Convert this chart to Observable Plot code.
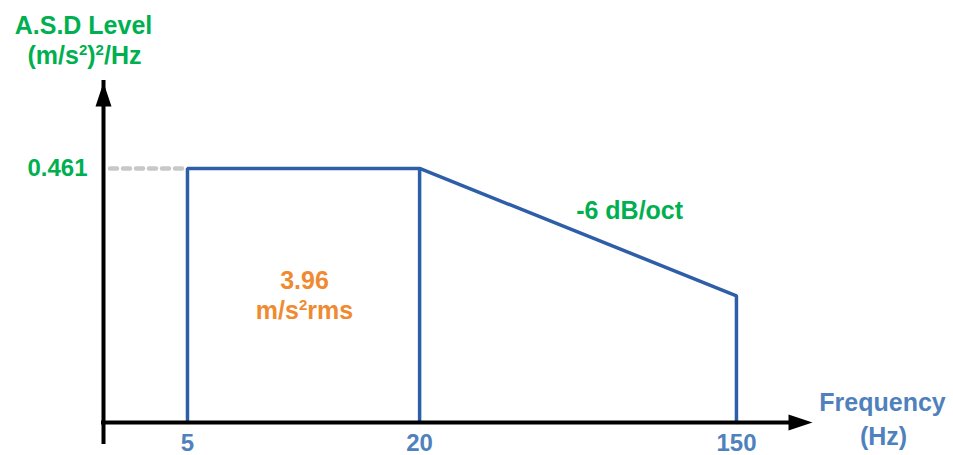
<!DOCTYPE html>
<html>
<head>
<meta charset="utf-8">
<script src="https://cdn.jsdelivr.net/npm/d3@7"></script>
<script src="https://cdn.jsdelivr.net/npm/@observablehq/plot@0.6"></script>
<style>
  html, body { margin: 0; padding: 0; background: #fff; }
  svg { display: block; }
</style>
</head>
<body>
<div id="chart"></div>
<script>
// ---- data ----
const breakFreqs = [5, 20, 150];          // Hz
const asdLevels = [0.461, 0.461, 0.23];   // (m/s²)²/Hz (schematic slope end)
const tickLabels = ["5", "20", "150"];
const levelLabel = "0.461";
const slopeLabel = "-6 dB/oct";
const rmsLabel = ["3.96", "m/s²rms"];
const yTitle = ["A.S.D Level", "(m/s²)²/Hz"];
const xTitle = ["Frequency", "(Hz)"];
const xDomain = [3.08, 249];
const yDomain = [0, 0.617];

// ---- derived tables ----
const outline = [
  {f: breakFreqs[0], v: 0},
  ...breakFreqs.map((f, i) => ({f, v: asdLevels[i]})),
  {f: breakFreqs[breakFreqs.length - 1], v: 0}
];
const ticks = breakFreqs.map((f, i) => ({f, label: tickLabels[i]}));

const GREEN = "#00b050", BLUE = "#2f5ea8", LBLUE = "#4f81bd", ORANGE = "#f08a30";
const FONT = "'Liberation Sans', Arial, sans-serif";

const arrowHead = {
  draw(ctx) {
    ctx.moveTo(0, 0);
    ctx.lineTo(8, 24);
    ctx.lineTo(-8, 24);
    ctx.closePath();
  }
};

const textOpts = {fontFamily: FONT, fontWeight: "bold", fontSize: 25, lineAnchor: "middle"};

const chart = Plot.plot({
  width: 953,
  height: 455,
  marginLeft: 103,
  marginRight: 141,
  marginTop: 82,
  marginBottom: 33,
  style: {fontFamily: FONT, background: "#fff"},
  x: {type: "pow", exponent: -0.037, domain: xDomain, axis: null},
  y: {domain: yDomain, axis: null},
  marks: [
    // dashed guide for level
    Plot.ruleY([asdLevels[0]], {x1: xDomain[0], x2: breakFreqs[0], stroke: "#c8c8c8", strokeWidth: 4.5, strokeDasharray: "7,6", strokeLinecap: "round", insetLeft: 7, insetRight: 4}),
    // profile
    Plot.line(outline, {x: "f", y: "v", stroke: BLUE, strokeWidth: 3.5, strokeLinejoin: "miter"}),
    Plot.ruleX([breakFreqs[1]], {y1: 0, y2: asdLevels[1], stroke: BLUE, strokeWidth: 3.5}),
    // axes
    Plot.ruleX([xDomain[0]], {y1: yDomain[0], y2: yDomain[1], insetTop: 20, stroke: "#000", strokeWidth: 4, strokeLinecap: "square"}),
    Plot.ruleY([yDomain[0]], {x1: xDomain[0], x2: xDomain[1], insetRight: 20, stroke: "#000", strokeWidth: 4, strokeLinecap: "square"}),
    Plot.dot([[xDomain[0], yDomain[1]]], {x: d => d[0], y: d => d[1], symbol: arrowHead, r: 1, fill: "#000", stroke: null}),
    Plot.dot([[xDomain[1], yDomain[0]]], {x: d => d[0], y: d => d[1], symbol: arrowHead, r: 1, fill: "#000", stroke: null, rotate: 90}),
    // tick labels
    Plot.text(ticks, {x: "f", y: () => 0, text: "label", dy: 21, fill: LBLUE, ...textOpts, fontSize: 24}),
    // level label
    Plot.text([levelLabel], {x: () => xDomain[0], y: () => asdLevels[0], text: d => d, textAnchor: "end", dx: -16, fill: GREEN, ...textOpts, fontSize: 24}),
    // y title
    Plot.text([yTitle[0]], {x: () => xDomain[0], y: () => yDomain[1], text: d => d, dx: -20, dy: -57, fill: GREEN, ...textOpts}),
    Plot.text([yTitle[1]], {x: () => xDomain[0], y: () => yDomain[1], text: d => d, dx: -19, dy: -27, fill: GREEN, ...textOpts}),
    // x title
    Plot.text([xTitle[0]], {x: () => xDomain[1], y: () => 0, text: d => d, dx: 70, dy: -20, fill: LBLUE, ...textOpts}),
    Plot.text([xTitle[1]], {x: () => xDomain[1], y: () => 0, text: d => d, dx: 71, dy: 14, fill: LBLUE, ...textOpts}),
    // slope annotation
    Plot.text([slopeLabel], {x: () => breakFreqs[1], y: () => asdLevels[1], text: d => d, dx: 210, dy: 43, fill: GREEN, ...textOpts}),
    // rms annotation
    Plot.text([rmsLabel[0]], {x: () => breakFreqs[0], y: () => 0, text: d => d, dx: 117, dy: -142, fill: ORANGE, ...textOpts}),
    Plot.text([rmsLabel[1]], {x: () => breakFreqs[0], y: () => 0, text: d => d, dx: 117, dy: -112, fill: ORANGE, ...textOpts})
  ]
});

// render "²" as a real raised superscript
d3.select(chart).selectAll("text").each(function () {
  const el = this;
  const s = el.textContent;
  if (!s.includes("²")) return;
  el.textContent = "";
  const parts = s.split("²");
  parts.forEach((p, i) => {
    if (p) {
      const t = document.createElementNS("http://www.w3.org/2000/svg", "tspan");
      t.textContent = p;
      if (i > 0) t.setAttribute("dy", "9");
      el.appendChild(t);
    } else if (i > 0) {
      // nothing after superscript, still restore baseline on next part
    }
    if (i < parts.length - 1) {
      const sup = document.createElementNS("http://www.w3.org/2000/svg", "tspan");
      sup.textContent = "2";
      sup.setAttribute("font-size", "15");
      sup.setAttribute("dy", "-9");
      el.appendChild(sup);
    }
  });
  // fix consecutive superscripts: if a sup directly follows a restored part, dy already handled
});

document.getElementById("chart").appendChild(chart);
</script>
</body>
</html>
